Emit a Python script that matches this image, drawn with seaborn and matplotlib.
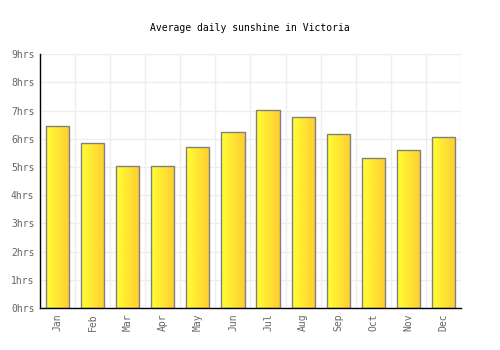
import numpy as np
import pandas as pd
import matplotlib
matplotlib.use("Agg")
import matplotlib.pyplot as plt
import seaborn as sns
from matplotlib.colors import LinearSegmentedColormap

# Data
months = ["Jan", "Feb", "Mar", "Apr", "May", "Jun",
          "Jul", "Aug", "Sep", "Oct", "Nov", "Dec"]
sunshine_hrs = [6.44, 5.84, 5.02, 5.02, 5.70, 6.23,
                7.01, 6.76, 6.16, 5.31, 5.59, 6.05]
y_ticks = list(range(0, 10))
y_tick_labels = [f"{v}hrs" for v in y_ticks]
title = "Average daily sunshine in Victoria"

df = pd.DataFrame({"Month": months, "Sunshine": sunshine_hrs})

sns.set_theme(style="white")
plt.rcParams["font.family"] = ["DejaVu Sans Mono", "DejaVu Sans"]

fig = plt.figure(figsize=(5, 3.5), dpi=100)
ax = fig.add_axes([0.08, 0.12, 0.842, 0.725])

sns.barplot(data=df, x="Month", y="Sunshine", color="#ffdd33",
            width=0.66, edgecolor="#808080", linewidth=1.0, ax=ax)

# gradient fill inside each bar
grad = LinearSegmentedColormap.from_list("sun", ["#ffff33", "#ffcc33"])
gradient = np.linspace(0, 1, 64).reshape(1, -1)
for bar in ax.patches:
    x0, y0 = bar.get_x(), bar.get_y()
    w, h = bar.get_width(), bar.get_height()
    im = ax.imshow(gradient, cmap=grad, aspect="auto",
                   extent=[x0, x0 + w, y0, y0 + h], zorder=bar.get_zorder() + 0.1)
    im.set_clip_path(bar)
    bar.set_facecolor("none")
    bar.set_zorder(bar.get_zorder() + 0.2)

ax.set_xlim(-0.5, 11.5)
ax.set_ylim(0, 9)
ax.set_yticks(y_ticks)
ax.set_yticklabels(y_tick_labels)
ax.set_xticks(range(len(months)))
ax.set_xticklabels(months, rotation=90)
ax.set_xticks(np.arange(-0.5, 12, 1), minor=True)

ax.grid(True, which="major", axis="y", color="#eeeeee", linewidth=1)
ax.grid(True, which="minor", axis="x", color="#eeeeee", linewidth=1)
ax.set_axisbelow(True)

ax.tick_params(axis="both", which="both", length=0, labelsize=7,
               labelcolor="#666666", pad=4)
ax.set_xlabel("")
ax.set_ylabel("")

for side in ["top", "right"]:
    ax.spines[side].set_visible(False)
for side in ["left", "bottom"]:
    ax.spines[side].set_color("black")
    ax.spines[side].set_linewidth(1)

fig.text(0.5, 0.92, title, ha="center", va="center", fontsize=7, color="black")

fig.savefig("out.png", dpi=100)
